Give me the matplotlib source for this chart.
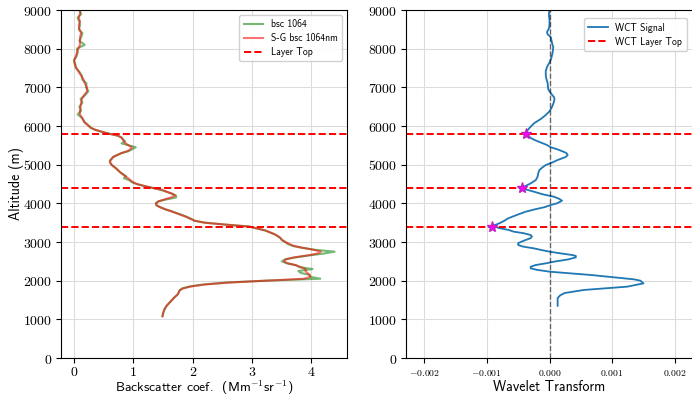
import numpy as np
import matplotlib
matplotlib.use("Agg")
import matplotlib.pyplot as plt
from matplotlib.ticker import FuncFormatter, FixedLocator
import logging
logging.getLogger('matplotlib.font_manager').setLevel(logging.ERROR)

plt.rcParams['mathtext.fontset'] = 'cm'
plt.rcParams['axes.unicode_minus'] = False

# ---------------- data ----------------
bsc_alt = [1080, 1150, 1250, 1350, 1450, 1550, 1650, 1750, 1800, 1850,
           1900, 1950, 2000, 2050, 2100, 2150, 2200, 2250, 2300, 2350,
           2400, 2450, 2500, 2550, 2600, 2650, 2700, 2750, 2800, 2850,
           2900, 2950, 3000, 3050, 3100, 3150, 3200, 3250, 3300, 3350,
           3400, 3450, 3500, 3550, 3600, 3650, 3700, 3750, 3800, 3850,
           3900, 3950, 4000, 4050, 4100, 4150, 4200, 4250, 4300, 4350,
           4400, 4450, 4500, 4550, 4600, 4650, 4700, 4800, 4900, 5000,
           5050, 5100, 5200, 5300, 5350, 5400, 5450, 5500, 5550, 5600,
           5700, 5750, 5800, 5850, 5900, 5950, 6000, 6100, 6200, 6300,
           6400, 6500, 6600, 6700, 6800, 6900, 7000, 7100, 7200, 7300,
           7400, 7500, 7600, 7700, 7800, 7900, 8000, 8100, 8200, 8300,
           8400, 8500, 8600, 8700, 8800, 8900, 9000]

bsc_sg = [1.49, 1.50, 1.52, 1.56, 1.62, 1.68, 1.75, 1.78, 1.84, 1.97,
          2.20, 2.60, 3.25, 3.88, 3.98, 3.97, 3.93, 3.90, 3.90, 3.82,
          3.74, 3.60, 3.54, 3.56, 3.70, 3.92, 4.10, 4.16, 4.03, 3.86,
          3.70, 3.63, 3.56, 3.51, 3.48, 3.44, 3.38, 3.30, 3.22, 3.08,
          2.95, 2.55, 2.20, 2.03, 1.96, 1.89, 1.80, 1.72, 1.62, 1.53,
          1.45, 1.39, 1.38, 1.42, 1.52, 1.63, 1.70, 1.66, 1.56, 1.48,
          1.32, 1.18, 1.06, 0.99, 0.95, 0.91, 0.86, 0.78, 0.71, 0.63,
          0.61, 0.61, 0.66, 0.80, 0.90, 0.95, 0.97, 0.92, 0.87, 0.84,
          0.80, 0.74, 0.58, 0.48, 0.36, 0.29, 0.25, 0.17, 0.14, 0.10,
          0.10, 0.11, 0.12, 0.13, 0.17, 0.22, 0.22, 0.18, 0.16, 0.12,
          0.08, 0.04, 0.01, 0.00, 0.03, 0.05, 0.07, 0.10, 0.10, 0.10,
          0.12, 0.09, 0.08, 0.10, 0.08, 0.10, 0.10]

bsc_raw = [1.49, 1.50, 1.52, 1.56, 1.62, 1.68, 1.75, 1.78, 1.82, 1.95,
           2.17, 2.55, 3.22, 4.15, 3.98, 3.97, 3.82, 3.78, 4.02, 3.80,
           3.74, 3.58, 3.50, 3.56, 3.72, 3.95, 4.20, 4.39, 4.05, 3.84,
           3.68, 3.60, 3.56, 3.50, 3.48, 3.43, 3.38, 3.30, 3.22, 3.08,
           2.95, 2.55, 2.20, 2.03, 1.97, 1.90, 1.82, 1.72, 1.64, 1.53,
           1.45, 1.39, 1.38, 1.42, 1.55, 1.72, 1.72, 1.64, 1.56, 1.46,
           1.32, 1.18, 1.05, 0.97, 0.93, 0.84, 0.88, 0.78, 0.71, 0.63,
           0.61, 0.60, 0.66, 0.80, 0.92, 0.98, 1.04, 0.92, 0.80, 0.86,
           0.80, 0.74, 0.60, 0.46, 0.36, 0.28, 0.25, 0.18, 0.14, 0.06,
           0.12, 0.09, 0.14, 0.11, 0.19, 0.24, 0.20, 0.21, 0.14, 0.13,
           0.09, 0.03, 0.02, 0.00, 0.04, 0.06, 0.05, 0.18, 0.09, 0.12,
           0.14, 0.08, 0.10, 0.09, 0.06, 0.12, 0.09]

layer_tops = [5800, 4400, 3400]

wct_alt = [1350, 1450, 1550, 1620, 1680, 1760, 1845, 1930, 2000, 2034,
           2100, 2147, 2200, 2233, 2280, 2319, 2360, 2405, 2450, 2491,
           2550, 2603, 2640, 2664, 2700, 2750, 2800, 2836, 2880, 2922,
           2970, 3000, 3052, 3100, 3140, 3181, 3230, 3267, 3310, 3360,
           3414, 3450, 3500, 3550, 3612, 3700, 3784, 3850, 3900, 3957,
           4000, 4069, 4120, 4172, 4230, 4302, 4360, 4405, 4450, 4517,
           4600, 4690, 4780, 4862, 4920, 4991, 5060, 5121, 5200, 5250,
           5300, 5337, 5400, 5450, 5509, 5580, 5640, 5682, 5740, 5811,
           5870, 5948, 6000, 6078, 6180, 6284, 6380, 6491, 6620, 6700,
           6750, 6850, 6950, 7112, 7220, 7319, 7420, 7526, 7640, 7760,
           7900, 8040, 8150, 8300, 8370, 8430, 8520, 8600, 8741, 8880,
           9000]

# WCT values in units of 1e-3
wct_val_e3 = [0.13, 0.13, 0.13, 0.17, 0.24, 0.55, 1.24, 1.50, 1.45, 1.35,
              0.95, 0.66, 0.25, 0.00, -0.20, -0.30, -0.30, -0.22, -0.05, 0.07,
              0.30, 0.42, 0.42, 0.36, 0.20, 0.00, -0.15, -0.25, -0.42, -0.50,
              -0.50, -0.46, -0.38, -0.30, -0.28, -0.30, -0.42, -0.57, -0.65, -0.80,
              -0.92, -0.85, -0.78, -0.72, -0.66, -0.52, -0.38, -0.22, -0.08, 0.02,
              0.12, 0.20, 0.15, 0.07, -0.10, -0.25, -0.38, -0.44, -0.38, -0.30,
              -0.22, -0.19, -0.18, -0.16, -0.12, -0.06, 0.05, 0.13, 0.26, 0.29,
              0.27, 0.22, 0.12, 0.02, -0.04, -0.15, -0.24, -0.29, -0.34, -0.37,
              -0.36, -0.32, -0.29, -0.24, -0.14, -0.06, 0.00, 0.04, 0.07, 0.08,
              0.07, 0.02, -0.02, -0.03, -0.05, -0.06, -0.06, -0.04, 0.00, 0.03,
              0.05, 0.06, 0.04, 0.02, -0.03, -0.04, -0.01, 0.00, 0.00, -0.01,
              0.00]

star_alt = [5800, 4400, 3400]
star_val_e3 = [-0.37, -0.44, -0.92]

left_xticks = [0, 1, 2, 3, 4]
right_xticks = [-0.002, -0.001, 0.000, 0.001, 0.002]
yticks = [0, 1000, 2000, 3000, 4000, 5000, 6000, 7000, 8000, 9000]

# ---------------- figure ----------------
W, H = 692, 397
fig = plt.figure(figsize=(W / 100, H / 100), dpi=100)

def px_axes(x0, x1, ytop, ybot):
    return fig.add_axes([x0 / W, 1 - ybot / H, (x1 - x0) / W, (ybot - ytop) / H])

ax1 = px_axes(61, 347, 10, 358)
ax2 = px_axes(406, 693, 10, 358)

SANS = 'cmss10'

# left panel
ax1.plot(bsc_raw, bsc_alt, color='green', alpha=0.55, lw=1.5, label='bsc 1064')
ax1.plot(bsc_sg, bsc_alt, color='red', alpha=0.55, lw=1.5, label='S-G bsc 1064nm')
for i, lt in enumerate(layer_tops):
    ax1.axhline(lt, color='red', ls='--', lw=1.4, label='Layer Top' if i == 0 else None)
ax1.set_xlim(-0.22, 4.6)

# right panel
wct = np.array(wct_val_e3) * 1e-3
stars = np.array(star_val_e3) * 1e-3
ax2.plot(wct, wct_alt, color='tab:blue', lw=1.3, label='WCT Signal')
ax2.axvline(0, color='k', ls='--', lw=1.0, alpha=0.55)
for i, lt in enumerate(layer_tops):
    ax2.axhline(lt, color='red', ls='--', lw=1.4, label='WCT Layer Top' if i == 0 else None)
ax2.plot(stars, star_alt, ls='none', marker='*', ms=8, color='magenta',
         markeredgecolor='#c020c0', zorder=5)
ax2.set_xlim(-0.00229, 0.00229)

for ax in (ax1, ax2):
    ax.set_ylim(0, 9000)
    ax.yaxis.set_major_locator(FixedLocator(yticks))
    ax.yaxis.set_major_formatter(FuncFormatter(lambda v, p: r'$%d$' % v))
    ax.grid(True, color='#dcdcdc', lw=0.8)
    ax.set_axisbelow(True)
    ax.tick_params(labelsize=10, length=3.5, width=0.8, pad=2.5)

ax1.xaxis.set_major_locator(FixedLocator(left_xticks))
ax1.xaxis.set_major_formatter(FuncFormatter(lambda v, p: r'$%d$' % v))
ax1.tick_params(axis='x', pad=1.5)
ax2.xaxis.set_major_locator(FixedLocator(right_xticks))
ax2.xaxis.set_major_formatter(FuncFormatter(
    lambda v, p: (r'$%.3f$' % v) if abs(v) > 1e-12 else r'$0.000$'))
ax2.tick_params(axis='x', labelsize=7, pad=4)

ax1.set_xlabel(r'Backscatter coef.  (Mm$^{\mathsf{-1}}$sr$^{\mathsf{-1}}$)',
               fontsize=9.8, family=SANS)
ax1.set_ylabel('Altitude (m)', fontsize=10, family=SANS)
ax2.set_xlabel('Wavelet Transform', fontsize=10, family=SANS)
ax1.xaxis.set_label_coords(0.5, -0.058)
ax2.xaxis.set_label_coords(0.5, -0.064)
ax1.yaxis.set_label_coords(-0.128, 0.5)

leg_kw = dict(loc='upper right', prop={'family': SANS, 'size': 7}, framealpha=0.9,
              borderpad=0.45, handlelength=2.0, labelspacing=0.4)
ax1.legend(**leg_kw)
ax2.legend(bbox_to_anchor=(0.995, 0.99), **leg_kw)

fig.savefig('out.png', dpi=100)
